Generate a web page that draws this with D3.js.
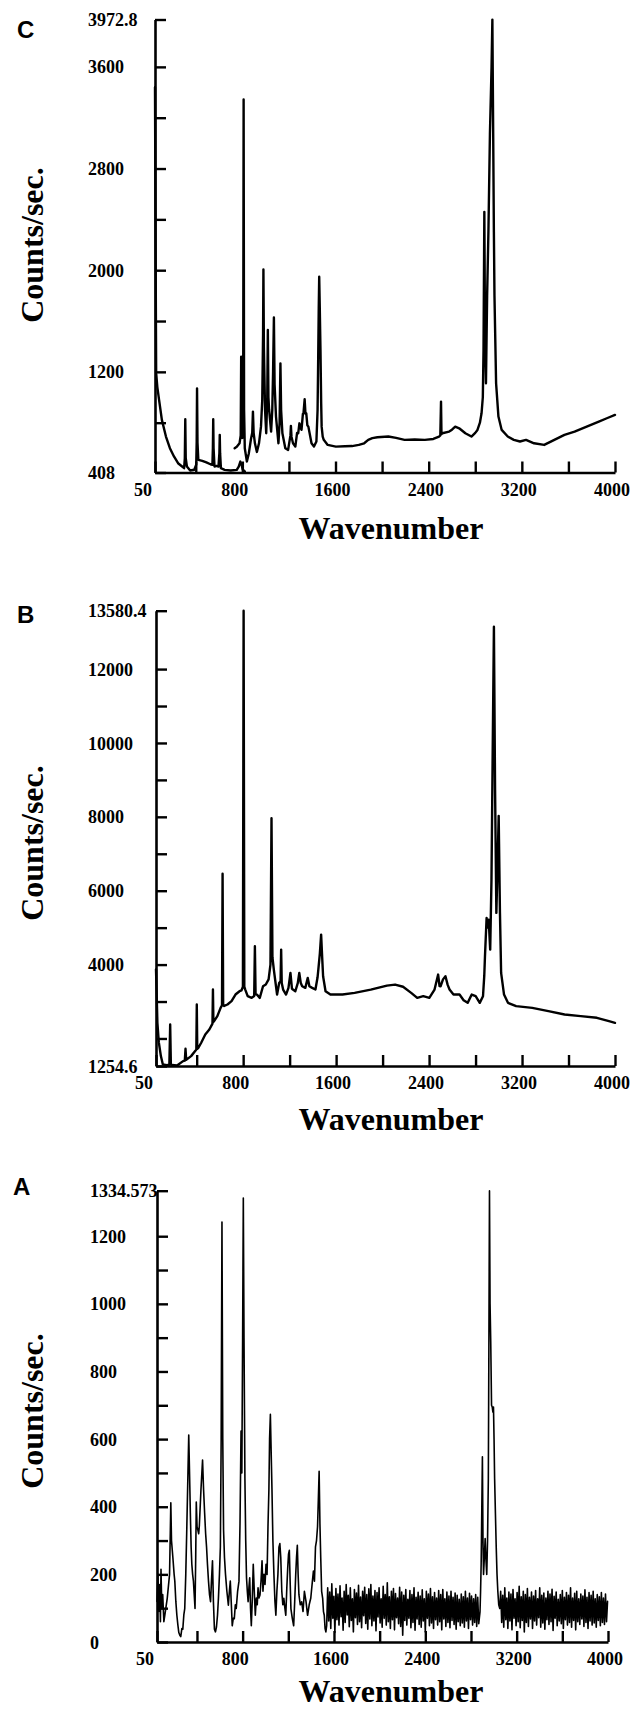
<!DOCTYPE html>
<html>
<head>
<meta charset="utf-8">
<script src="https://cdn.jsdelivr.net/npm/d3@7"></script>
<style>
  body { margin: 0; background: #fff; }
  svg { display: block; }
  .tick text { font-family: "Liberation Serif", serif; font-weight: bold; font-size: 18px; fill: #000; }
  .axis path, .axis line { stroke: #000; }
  .spec { fill: none; stroke: #000; stroke-linejoin: round; stroke-linecap: round; }
  .title { font-family: "Liberation Serif", serif; font-weight: bold; font-size: 32px; fill: #000; }
  .letter { font-family: "Liberation Sans", sans-serif; font-weight: bold; font-size: 24px; fill: #000; }
</style>
</head>
<body>
<svg id="chart" width="633" height="1710"></svg>
<script>
// ---------- data

const X_TICKS = [50, 400, 800, 1200, 1600, 2000, 2400, 2800, 3200, 3600, 4000];
const X_LABELS = [50, 800, 1600, 2400, 3200, 4000];

const Y_TICKS_C = [408, 800, 1200, 1600, 2000, 2400, 2800, 3200, 3600, 3972.8];
const Y_LABELS_C = ["408", "1200", "2000", "2800", "3600", "3972.8"];

const Y_TICKS_B = [1254.6, 2000, 3000, 4000, 5000, 6000, 7000, 8000, 9000, 10000, 11000, 12000, 13580.4];
const Y_LABELS_B = ["1254.6", "4000", "6000", "8000", "10000", "12000", "13580.4"];

const Y_TICKS_A = [0, 100, 200, 300, 400, 500, 600, 700, 800, 900, 1000, 1100, 1200, 1334.573];
const Y_LABELS_A = ["0", "200", "400", "600", "800", "1000", "1200", "1334.573"];

// spectrum C, low wavenumber window
const SPEC_C1 = [
  [50, 3440], [55, 2200], [60, 1190], [70, 1080], [85, 980], [109, 822], [144, 691], [178, 599],
  [213, 534], [248, 481], [283, 455], [300, 442], [306, 520], [310, 827], [314, 520], [324, 455],
  [352, 424], [387, 430], [404, 470], [408, 650], [411, 1070], [415, 640], [422, 508], [456, 500],
  [491, 488], [526, 473], [543, 468], [547, 600], [550, 827], [553, 600], [561, 455], [578, 460],
  [595, 455], [603, 560], [606, 704], [609, 560], [616, 442], [648, 429], [700, 424], [752, 429],
  [769, 455], [783, 494], [793, 470], [804, 430], [821, 416]
];

// spectrum C, main window
const SPEC_C2 = [
  [734, 599], [752, 610], [776, 638], [786, 700], [790, 1319], [794, 700], [800, 680], [807, 900],
  [811, 3344], [815, 900], [821, 599], [839, 494], [856, 560], [873, 665], [885, 720], [891, 887],
  [897, 720], [908, 638], [925, 570], [943, 638], [960, 769], [971, 980], [978, 1500], [981, 2006],
  [985, 1400], [995, 900], [1005, 717], [1014, 1000], [1019, 1529], [1024, 1000], [1030, 900],
  [1047, 730], [1057, 900], [1064, 1200], [1071, 1628], [1077, 1100], [1089, 848], [1110, 638],
  [1120, 800], [1127, 1267], [1133, 900], [1144, 717], [1169, 599], [1193, 586], [1213, 700],
  [1217, 775], [1222, 690], [1235, 638], [1255, 612], [1270, 720], [1280, 717], [1290, 795],
  [1300, 760], [1308, 744], [1320, 870], [1325, 874], [1335, 984], [1342, 870], [1349, 874],
  [1358, 780], [1367, 769], [1394, 638], [1415, 612], [1436, 652], [1446, 900], [1450, 1200],
  [1456, 1700], [1460, 1948], [1465, 1700], [1471, 1372], [1477, 950], [1481, 769], [1490, 690],
  [1499, 665], [1533, 625], [1603, 612], [1680, 615], [1742, 616], [1800, 625], [1846, 638],
  [1881, 665], [1916, 678], [1960, 685], [2054, 691], [2120, 680], [2193, 665], [2280, 668],
  [2367, 665], [2440, 672], [2489, 691], [2500, 700], [2506, 966], [2510, 710], [2517, 717],
  [2576, 730], [2600, 745], [2628, 769], [2662, 756], [2715, 717], [2767, 691], [2800, 720],
  [2819, 743], [2840, 800], [2854, 874], [2865, 1000], [2871, 1372], [2878, 2459], [2882, 1800],
  [2885, 1500], [2892, 1110], [2902, 1800], [2913, 2300], [2926, 3074], [2940, 3600], [2947, 3972],
  [2954, 3074], [2960, 2300], [2965, 1800], [2979, 1110], [2999, 848], [3027, 743], [3079, 691],
  [3131, 665], [3184, 652], [3236, 665], [3305, 638], [3392, 625], [3479, 665], [3566, 704],
  [3653, 730], [3757, 769], [3861, 809], [3930, 835], [4000, 861]
];

const SPEC_B = [
  [50, 3870], [55, 3300], [62, 2423], [74, 1900], [92, 1523], [109, 1297], [144, 1280], [165, 1290],
  [172, 2378], [178, 1290], [189, 1280], [231, 1270], [283, 1387], [298, 1400], [304, 1721],
  [310, 1420], [318, 1440], [352, 1522], [387, 1658], [397, 1700], [401, 2919], [405, 1720],
  [415, 1748], [439, 1883], [474, 2108], [509, 2243], [536, 2400], [540, 3324], [544, 2450],
  [550, 2468], [578, 2604], [606, 2829], [618, 2900], [623, 6459], [628, 2900], [637, 2880],
  [665, 2919], [700, 3009], [734, 3189], [769, 3279], [786, 3300], [798, 3400], [804, 13580],
  [810, 3400], [818, 3324], [839, 3144], [873, 3099], [895, 3150], [901, 4495], [907, 3200],
  [918, 3189], [943, 3099], [971, 3414], [995, 3460], [1019, 3600], [1035, 4000], [1044, 7964],
  [1052, 4200], [1064, 3865], [1092, 3189], [1110, 3500], [1122, 3550], [1127, 4405], [1132, 3500],
  [1144, 3324], [1169, 3189], [1190, 3370], [1207, 3775], [1220, 3350], [1228, 3324], [1249, 3279],
  [1270, 3500], [1283, 3775], [1296, 3500], [1308, 3414], [1335, 3370], [1356, 3640], [1370, 3414],
  [1394, 3370], [1422, 3324], [1440, 3650], [1447, 3865], [1460, 4300], [1471, 4811], [1480, 4200],
  [1488, 3685], [1509, 3279], [1551, 3189], [1655, 3189], [1759, 3234], [1898, 3324], [2037, 3432],
  [2107, 3459], [2176, 3400], [2246, 3234], [2298, 3099], [2350, 3144], [2402, 3099], [2447, 3324],
  [2478, 3730], [2490, 3420], [2499, 3414], [2520, 3600], [2541, 3685], [2560, 3450], [2576, 3324],
  [2610, 3189], [2662, 3189], [2697, 3036], [2732, 2964], [2767, 3189], [2801, 3144], [2836, 2964],
  [2864, 3144], [2875, 3700], [2881, 4225], [2895, 5261], [2905, 5000], [2913, 5216], [2926, 4405],
  [2937, 6297], [2947, 9631], [2958, 13144], [2968, 8730], [2979, 5400], [2989, 6658], [2999, 8027],
  [3010, 5400], [3020, 3775], [3045, 3189], [3079, 2964], [3149, 2874], [3288, 2829], [3427, 2739],
  [3566, 2649], [3705, 2604], [3844, 2559], [3948, 2468], [4000, 2423]
];

// spectrum A, fingerprint region
const SPEC_A_LOW = [
  [50, 120], [58, 200], [66, 90], [74, 170], [80, 60], [85, 215], [92, 100], [100, 140], [110, 60],
  [119, 80], [140, 130], [160, 200], [171, 412], [177, 300], [189, 250], [200, 200], [206, 180],
  [215, 120], [224, 79], [233, 50], [241, 28], [250, 20], [258, 16], [268, 40], [276, 38], [285, 80],
  [293, 99], [302, 200], [310, 321], [318, 450], [328, 612], [335, 500], [342, 382], [349, 280],
  [355, 230], [362, 200], [369, 180], [376, 140], [383, 99], [389, 250], [394, 414], [401, 340],
  [408, 331], [415, 320], [421, 345], [435, 450], [449, 538], [458, 450], [467, 382], [476, 320],
  [484, 281], [492, 230], [501, 180], [510, 140], [519, 119], [527, 180], [536, 240], [544, 120],
  [553, 38], [562, 30], [571, 45], [580, 80], [588, 129], [597, 200], [605, 281], [612, 600],
  [619, 1242], [626, 600], [633, 331], [641, 250], [650, 200], [662, 150], [675, 109], [684, 150],
  [692, 180], [700, 120], [709, 48], [718, 70], [727, 69], [736, 110], [744, 99], [756, 150],
  [768, 180], [777, 350], [786, 624], [793, 500], [800, 900], [806, 1313], [812, 900], [820, 483],
  [827, 300], [834, 190], [841, 150], [848, 119], [855, 160], [862, 190], [869, 100], [876, 48],
  [884, 120], [893, 230], [902, 150], [911, 79], [920, 130], [928, 110], [935, 160], [943, 130],
  [952, 139], [961, 180], [970, 240], [978, 150], [987, 200], [996, 170], [1005, 230], [1014, 200],
  [1022, 341], [1030, 450], [1036, 600], [1043, 673], [1050, 560], [1057, 450], [1065, 300],
  [1074, 200], [1083, 120], [1091, 79], [1100, 150], [1109, 200], [1118, 280], [1126, 291],
  [1134, 250], [1143, 150], [1152, 110], [1161, 129], [1170, 100], [1178, 79], [1187, 160],
  [1195, 220], [1202, 260], [1209, 271], [1216, 180], [1223, 98], [1235, 70], [1247, 48], [1256, 120],
  [1265, 200], [1272, 250], [1279, 286], [1286, 200], [1293, 140], [1305, 110], [1317, 119],
  [1329, 90], [1341, 150], [1355, 120], [1369, 79], [1383, 110], [1397, 130], [1411, 180], [1420, 210],
  [1429, 180], [1438, 281], [1447, 300], [1456, 341], [1463, 420], [1470, 505], [1477, 350],
  [1484, 250], [1492, 150], [1501, 129], [1508, 90], [1515, 79], [1522, 40], [1529, 30], [1536, 48]
];

// spectrum A, C-H stretch region
const SPEC_A_CH = [
  [2879, 89], [2884, 150], [2889, 230], [2895, 400], [2900, 548], [2905, 300], [2910, 200],
  [2917, 250], [2924, 306], [2930, 250], [2938, 200], [2945, 300], [2952, 483], [2957, 900],
  [2962, 1334], [2967, 1000], [2973, 887], [2980, 700], [2986, 695], [2992, 680], [2997, 695],
  [3002, 600], [3007, 483], [3014, 380], [3021, 281], [3028, 200], [3035, 150], [3043, 110], [3052, 99]
];

// spectrum A, noisy baseline read every 9 cm-1
const NOISE_A1_START = 1545;
const NOISE_A1 = [
  160, 62, 148, 40, 172, 70, 135, 28, 158, 66, 142, 50, 166, 75, 130, 35, 150, 58, 170, 80,
  138, 45, 160, 64, 128, 30, 155, 72, 145, 52, 168, 60, 133, 42, 150, 78, 162, 55, 140, 38,
  157, 68, 170, 48, 136, 62, 152, 33, 146, 74, 160, 56, 128, 44, 165, 70, 140, 50, 175, 60,
  134, 40, 150, 66, 158, 36, 143, 72, 130, 54, 162, 46, 148, 20, 138, 64, 155, 50, 126, 70,
  152, 42, 140, 58, 160, 35, 132, 68, 147, 52, 136, 44, 154, 62, 128, 30, 150, 70, 142, 48,
  158, 56, 134, 40, 146, 66, 130, 50, 152, 60, 140, 36, 155, 68, 128, 46, 148, 58, 136, 42,
  150, 64, 132, 52, 145, 38, 138, 60, 126, 48, 142, 56, 134, 44, 150, 62, 130, 40, 144, 66,
  136, 50, 128, 58, 140, 46, 132, 54
];
const NOISE_A2_START = 3060;
const NOISE_A2 = [
  150, 58, 138, 44, 160, 66, 130, 40, 148, 62, 142, 36, 155, 70, 128, 48, 146, 60, 165, 42,
  134, 64, 150, 30, 140, 58, 158, 46, 132, 68, 148, 40, 136, 62, 152, 50, 128, 72, 160, 44,
  138, 56, 145, 38, 130, 66, 150, 52, 142, 60, 156, 34, 135, 70, 148, 48, 126, 62, 140, 54,
  152, 40, 132, 66, 146, 50, 138, 58, 160, 44, 130, 64, 144, 36, 150, 60, 128, 52, 142, 68,
  136, 46, 154, 58, 132, 40, 146, 62, 138, 50, 150, 56, 128, 44, 140, 64, 134, 48, 146, 58,
  130, 52, 142, 60, 120
];
const NOISE_STEP = 9;

// ----------

function noiseToPoints(start, values) {
  return values.map(function (v, i) { return [start + i * NOISE_STEP, v]; });
}

const SPEC_A = SPEC_A_LOW
  .concat(noiseToPoints(NOISE_A1_START, NOISE_A1))
  .concat(SPEC_A_CH)
  .concat(noiseToPoints(NOISE_A2_START, NOISE_A2));

const panels = [
  { letter: "C", letterX: 17, letterY: 38, left: 155, right: 615, top: 19.5, bottom: 472.5,
    yMin: 408, yMax: 3972.8, yTicks: Y_TICKS_C, yLabels: Y_LABELS_C, labelX: 88,
    titleY: 245, xTitleY: 539, lines: [SPEC_C1, SPEC_C2], lineWidth: 2.4 },
  { letter: "B", letterX: 17, letterY: 623, left: 156, right: 615, top: 610.7, bottom: 1066,
    yMin: 1254.6, yMax: 13580.4, yTicks: Y_TICKS_B, yLabels: Y_LABELS_B, labelX: 88,
    titleY: 843, xTitleY: 1130, lines: [SPEC_B], lineWidth: 2.4 },
  { letter: "A", letterX: 13, letterY: 1195, left: 157, right: 608, top: 1190.7, bottom: 1642,
    yMin: 0, yMax: 1334.573, yTicks: Y_TICKS_A, yLabels: Y_LABELS_A, labelX: 90,
    titleY: 1411, xTitleY: 1702, lines: [SPEC_A], lineWidth: 1.6 }
];

const svg = d3.select("#chart");

function drawPanel(p) {
  let g = svg.append("g");

  let x = d3.scaleLinear().domain([50, 4000]).range([p.left, p.right]);
  let y = d3.scaleLinear().domain([p.yMin, p.yMax]).range([p.bottom, p.top]);

  let line = d3.line()
    .x(function (d) { return x(d[0]); })
    .y(function (d) { return y(d[1]); });

  p.lines.forEach(function (pts) {
    g.append("path")
      .attr("class", "spec")
      .attr("stroke-width", p.lineWidth)
      .attr("d", line(pts));
  });

  // y axis, ticks pointing inward, labels flush left
  let yAxis = d3.axisLeft(y)
    .tickValues(p.yTicks)
    .tickSizeInner(-11)
    .tickSizeOuter(0)
    .tickFormat(function (d) {
      let s = String(d);
      return p.yLabels.indexOf(s) >= 0 ? s : "";
    });

  let ya = g.append("g")
    .attr("class", "axis")
    .attr("transform", "translate(" + p.left + ",0)")
    .call(yAxis);
  ya.select(".domain").attr("stroke-width", 2.6);
  ya.selectAll(".tick line").attr("stroke-width", 2.4);
  ya.selectAll(".tick text")
    .attr("x", p.labelX - p.left)
    .attr("dy", "0.34em")
    .attr("text-anchor", "start");

  // x axis
  let xAxis = d3.axisBottom(x)
    .tickValues(X_TICKS)
    .tickSizeInner(-11)
    .tickSizeOuter(0)
    .tickFormat(function (d) {
      return X_LABELS.indexOf(d) >= 0 ? String(d) : "";
    });

  let xa = g.append("g")
    .attr("class", "axis")
    .attr("transform", "translate(0," + p.bottom + ")")
    .call(xAxis);
  xa.select(".domain").attr("stroke-width", 2.6);
  xa.selectAll(".tick line").attr("stroke-width", 2.4);
  xa.selectAll(".tick text")
    .attr("x", -21.5)
    .attr("y", 23)
    .attr("dy", 0)
    .attr("text-anchor", "start");

  g.selectAll(".axis").attr("font-family", null).attr("font-size", null);

  // titles
  g.append("text")
    .attr("class", "title")
    .attr("text-anchor", "middle")
    .attr("transform", "translate(43," + p.titleY + ") rotate(-90)")
    .text("Counts/sec.");

  g.append("text")
    .attr("class", "title")
    .attr("text-anchor", "middle")
    .attr("x", 391)
    .attr("y", p.xTitleY)
    .text("Wavenumber");

  g.append("text")
    .attr("class", "letter")
    .attr("x", p.letterX)
    .attr("y", p.letterY)
    .text(p.letter);
}

panels.forEach(drawPanel);
</script>
</body>
</html>
